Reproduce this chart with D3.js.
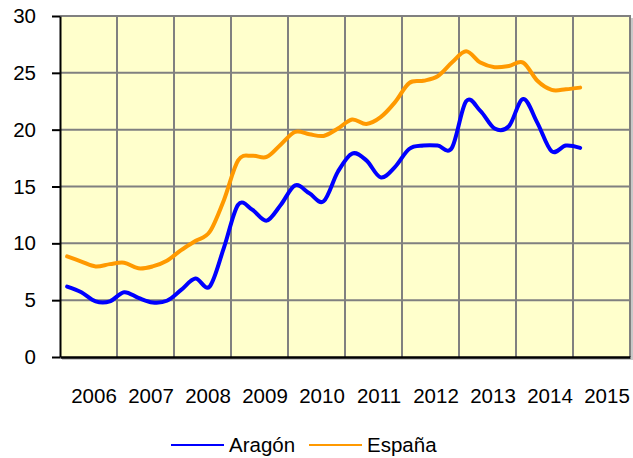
<!DOCTYPE html>
<meta charset="utf-8">
<script src="https://d3js.org/d3.v7.min.js"></script>
<style>
  body { margin: 0; background: #fff; }
  text { font-family: "Liberation Sans", Arial, sans-serif; fill: #000; }
</style>
<div id="chart"></div>
<script>

// quarterly unemployment rate (%), 2006 Q1 .. 2015 Q1
var years = [2006, 2007, 2008, 2009, 2010, 2011, 2012, 2013, 2014, 2015];
var aragon = [6.2, 5.7, 4.9, 4.9, 5.7, 5.2, 4.8, 4.95,
              5.9, 6.9, 6.2, 9.6, 13.4, 12.95, 12.0, 13.4,
              15.1, 14.4, 13.7, 16.3, 17.9, 17.3, 15.8, 16.7,
              18.3, 18.6, 18.6, 18.4, 22.5, 21.65, 20.1, 20.3,
              22.7, 20.6, 18.1, 18.6, 18.4];
var espana = [8.85, 8.4, 7.97, 8.17, 8.3, 7.8, 7.97, 8.47,
              9.4, 10.2, 11.0, 13.8, 17.3, 17.7, 17.6, 18.7,
              19.8, 19.6, 19.45, 20.1, 20.9, 20.5, 21.1, 22.4,
              24.1, 24.3, 24.7, 25.9, 26.9, 25.9, 25.5, 25.6,
              25.9, 24.3, 23.5, 23.55, 23.7];
var yTicks = [0, 5, 10, 15, 20, 25, 30];
var seriesNames = ["Aragón", "España"];
var colors = ["#0000ff", "#ff9900"];

var width = 633, height = 458;
var m = {left: 60, right: 630, top: 16, bottom: 357};

var svg = d3.select("#chart").append("svg")
    .attr("width", width)
    .attr("height", height);

var x = d3.scaleLinear().domain([2006, 2016]).range([m.left, m.right]);
var y = d3.scaleLinear().domain([0, 30]).range([m.bottom, m.top]);

// plot area background
svg.append("rect")
    .attr("x", m.left).attr("y", m.top)
    .attr("width", m.right - m.left).attr("height", m.bottom - m.top)
    .attr("fill", "#ffffcc");

// shadow / border of plot area
svg.append("path")
    .attr("d", "M" + (m.left + 2) + "," + (m.bottom + 2) + "H" + (m.right + 2) + "V" + (m.top + 2))
    .attr("fill", "none").attr("stroke", "#c8c8c8").attr("stroke-width", 2);
svg.append("path")
    .attr("d", "M" + m.left + "," + m.top + "H" + m.right + "V" + m.bottom)
    .attr("fill", "none").attr("stroke", "#808080").attr("stroke-width", 2);

// grid lines
svg.selectAll("line.vgrid")
  .data(years.slice(1))
  .enter().append("line")
    .attr("class", "vgrid")
    .attr("x1", function(d) { return x(d); })
    .attr("x2", function(d) { return x(d); })
    .attr("y1", m.top).attr("y2", m.bottom)
    .attr("stroke", "#808080").attr("stroke-width", 2);

svg.selectAll("line.hgrid")
  .data(yTicks.slice(1, -1))
  .enter().append("line")
    .attr("class", "hgrid")
    .attr("x1", m.left).attr("x2", m.right)
    .attr("y1", function(d) { return y(d); })
    .attr("y2", function(d) { return y(d); })
    .attr("stroke", "#808080").attr("stroke-width", 2);

// data lines
var line = d3.line()
    .x(function(d, i) { return x(2006 + (i + 0.5) / 4); })
    .y(function(d) { return y(d); })
    .curve(d3.curveCatmullRom.alpha(0));

[aragon, espana].forEach(function(s, k) {
  svg.append("path")
    .datum(s)
    .attr("d", line)
    .attr("fill", "none")
    .attr("stroke", colors[k])
    .attr("stroke-width", 4)
    .attr("stroke-linejoin", "round")
    .attr("stroke-linecap", "round");
});

// y axis
var yAxis = svg.append("g")
    .attr("transform", "translate(" + m.left + ",0)")
    .call(d3.axisLeft(y).tickValues(yTicks).tickSize(8).tickPadding(16).tickSizeOuter(0));
yAxis.select(".domain").attr("stroke", "#000").attr("stroke-width", 2);
yAxis.selectAll(".tick line").attr("stroke", "#000").attr("stroke-width", 2);
yAxis.selectAll(".tick text")
    .attr("font-size", "20.5px")
    .attr("font-family", "'Liberation Sans', Arial, sans-serif")
    .attr("fill", "#000");

// x axis
var xAxis = svg.append("g")
    .attr("transform", "translate(0," + m.bottom + ")")
    .call(d3.axisBottom(x)
      .tickValues(years.map(function(d) { return d + 0.5; }))
      .tickFormat(function(d) { return String(Math.floor(d)); })
      .tickSize(0).tickSizeOuter(0).tickPadding(31));
xAxis.select(".domain").attr("stroke", "#000").attr("stroke-width", 2.5);
xAxis.selectAll(".tick text")
    .attr("dx", 5)
    .attr("font-size", "20.5px")
    .attr("font-family", "'Liberation Sans', Arial, sans-serif")
    .attr("fill", "#000");

// legend
var legend = [
  {name: seriesNames[0], color: colors[0], x: 171},
  {name: seriesNames[1], color: colors[1], x: 309}
];
var lg = svg.selectAll("g.legend")
  .data(legend)
  .enter().append("g")
    .attr("class", "legend")
    .attr("transform", function(d) { return "translate(" + d.x + ",445)"; });
lg.append("line")
    .attr("x1", 0).attr("x2", 53)
    .attr("stroke", function(d) { return d.color; })
    .attr("stroke-width", 2);
lg.append("text")
    .attr("x", 58).attr("y", 7)
    .attr("font-size", "20.5px")
    .text(function(d) { return d.name; });

</script>
